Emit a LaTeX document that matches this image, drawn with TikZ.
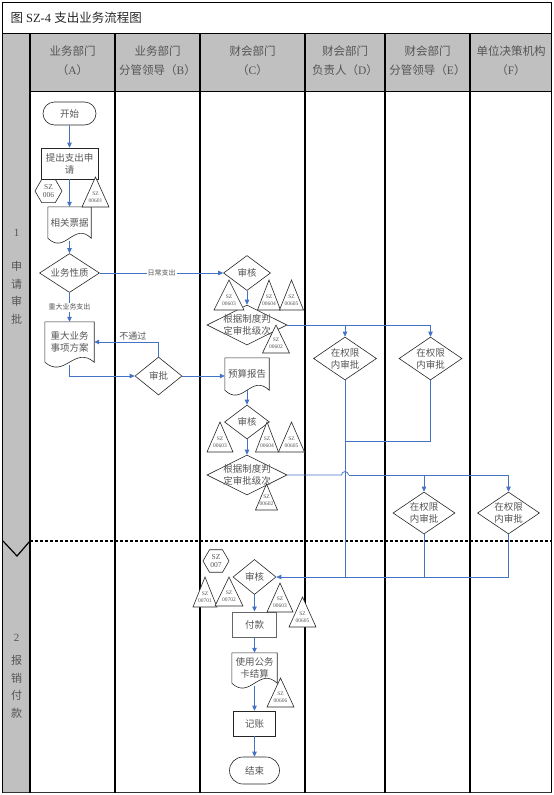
\documentclass[tikz,border=0pt]{standalone}
\usepackage{fontspec}
\setmainfont{Liberation Serif}
\newfontfamily\cjk{Noto Sans CJK SC}
\usetikzlibrary{positioning,arrows.meta,shapes.geometric,shapes.misc,calc}

\definecolor{flowblue}{RGB}{68,114,196}
\definecolor{lanegray}{RGB}{192,192,192}
\definecolor{txtgray}{RGB}{85,85,85}

\tikzset{
  shapeline/.style={draw=black!85, line width=0.6pt},
  procbox/.style={rectangle, shapeline, inner sep=1pt, align=center},
  docbox/.style={rectangle, inner sep=1pt, align=center},
  decision/.style={diamond, shapeline, inner sep=-8pt, align=center},
  terminal/.style={rounded rectangle, shapeline, inner sep=1pt},
  szhex/.style={regular polygon, regular polygon sides=6, shapeline, inner sep=0pt, align=center,
    font=\rmfamily\fontsize{7.5}{8}\selectfont},
  sztri/.style={rectangle, inner sep=0pt, align=center, minimum height=22,
    font=\rmfamily\fontsize{5.5}{6.5}\selectfont},
  flow/.style={draw=flowblue, line width=0.8pt, -{Triangle[length=5pt,width=4.5pt]}},
  flowline/.style={draw=flowblue, line width=0.8pt},
  lanetext/.style={font=\cjk\fontsize{11.5}{19}\selectfont, text=txtgray, align=center},
  phasetext/.style={font=\cjk\fontsize{11}{17.5}\selectfont, text=txtgray, align=center},
  linklabel/.style={font=\cjk\fontsize{7}{8}\selectfont, text=txtgray, fill=white, inner sep=1pt},
}

\begin{document}
\begin{tikzpicture}[x=1pt, y=-1pt, every node/.style={font=\cjk\fontsize{9.5}{12}\selectfont, text=txtgray}]
  \useasboundingbox (0,0) rectangle (554,795);

  % lanes
  \fill[lanegray] (3,33) rectangle (30,793);
  \fill[lanegray] (30,33) rectangle (552,91);
  \draw[line width=1pt] (2.5,2.5) rectangle (551.5,792.5);
  \draw[line width=1.6pt, black!80] (2.5,792.5) -- (551.5,792.5);
  \draw[line width=1pt] (2.5,33) -- (551.5,33);
  \draw[line width=1pt] (30,91) -- (551.5,91);
  \foreach \xx in {30,115,200,305,385,470}
    \draw[line width=1.2pt] (\xx,33) -- (\xx,792.5);
  \draw[line width=1.8pt, dash pattern=on 3pt off 2pt] (30,541) -- (551.5,541);
  \draw[line width=1.2pt] (3,541) -- (17,556) -- (30,541);

  \node[anchor=west, font=\rmfamily\fontsize{12.5}{14}\selectfont, text=black!85] (title) at (7,17.5)
    {{\cjk 图} SZ-4 {\cjk 支出业务流程图}};
  \node[lanetext] (hA) at (72.5,61) {业务部门\\（\textrm{A}）};
  \node[lanetext] (hB) at (157.5,61) {业务部门\\分管领导（\textrm{B}）};
  \node[lanetext] (hC) at (252.5,61) {财会部门\\（\textrm{C}）};
  \node[lanetext] (hD) at (345,61) {财会部门\\负责人（\textrm{D}）};
  \node[lanetext] (hE) at (427.5,61) {财会部门\\分管领导（\textrm{E}）};
  \node[lanetext] (hF) at (511,61) {单位决策机构\\（\textrm{F}）};

  \node[phasetext, font=\rmfamily\fontsize{11}{13}\selectfont] (ph1num) at (16.5,233) {1};
  \node[phasetext] (ph1name) at (16.5,293) {申\\请\\审\\批};
  \node[phasetext, font=\rmfamily\fontsize{11}{13}\selectfont] (ph2num) at (16.5,638) {2};
  \node[phasetext] (ph2name) at (16.5,687) {报\\销\\付\\款};

  % phase 1
  \node[terminal, minimum width=55, minimum height=23] (start) at (69.5,113.5) {开始};
  \node[procbox, minimum width=57, minimum height=31] (req) at (69.5,163.5) {提出支出申\\请};
  \node[szhex, minimum size=27] (hex006) at (48.5,191) {SZ\\006};
  \node[docbox, minimum width=43, minimum height=31] (bills) at (69.5,222.5) {相关票据};
  \node[decision, minimum width=60, minimum height=39] (nature) at (69.5,273) {业务性质};
  \node[docbox, minimum width=49, minimum height=40] (major) at (69.5,342) {重大业务\\事项方案};
  \node[decision, minimum width=47, minimum height=38] (approveB) at (158.5,376) {审批};

  \node[decision, minimum width=47, minimum height=35] (audit1) at (247,273) {审核};
  \node[decision, minimum width=80, minimum height=40] (judge1) at (247,325) {根据制度判\\定审批级次};
  \node[docbox, minimum width=44, minimum height=32] (budget) at (247,374) {预算报告};
  \node[decision, minimum width=45, minimum height=34] (audit2) at (247,422) {审核};
  \node[decision, minimum width=80, minimum height=40] (judge2) at (247,475) {根据制度判\\定审批级次};

  \node[decision, minimum width=63, minimum height=43] (authD1) at (345,358.5) {在权限\\内审批};
  \node[decision, minimum width=63, minimum height=43] (authE1) at (430.5,358.5) {在权限\\内审批};
  \node[decision, minimum width=62, minimum height=42] (authE2) at (424,513) {在权限\\内审批};
  \node[decision, minimum width=62, minimum height=42] (authF) at (508.5,513) {在权限\\内审批};

  % phase 2
  \node[szhex, minimum size=26] (hex007) at (216,561) {SZ\\007};
  \node[decision, minimum width=43, minimum height=35] (audit3) at (254.5,577) {审核};
  \node[procbox, draw=black!60, line width=1pt, minimum width=44, minimum height=25] (pay) at (254.5,624.5) {付款};
  \node[docbox, minimum width=45, minimum height=30] (card) at (254.5,668) {使用公务\\卡结算};
  \node[procbox, minimum width=42, minimum height=25] (book) at (254.5,723.5) {记账};
  \node[terminal, minimum width=52, minimum height=27] (finish) at (254.5,770.5) {结束};

  \foreach \dd in {bills,major,budget,card}
    \draw[shapeline] (\dd.south east) -- (\dd.north east) -- (\dd.north west) -- (\dd.south west)
      .. controls ($(\dd.south west)!0.4!(\dd.south east)+(0,17)$) and ($(\dd.south west)!0.6!(\dd.south east)+(0,-17)$)
      .. (\dd.south east) -- cycle;

  % connectors
  \coordinate (billsfoot) at ($(bills.south)+(0,3)$);
  \coordinate (majorfoot) at ($(major.south)+(0,3)$);
  \coordinate (cardfoot) at ($(card.south)+(0,3)$);
  \draw[flow] (start) -- (req);
  \draw[flow] (req) -- (bills);
  \draw[flow] (billsfoot) -- (nature);
  \draw[flow] (nature) -- node[linklabel] {日常支出} (audit1);
  \draw[flow] (nature) -- node[linklabel] {重大业务支出} (major);
  \draw[flow] (majorfoot) |- (approveB);
  \draw[flow] (approveB) |- node[pos=0.7, above, linklabel, fill=none, font=\cjk\fontsize{9}{10}\selectfont] {不通过} (major);
  \draw[flow] (approveB) -- (budget.west |- approveB);
  \draw[flow] (audit1) -- (judge1);
  \draw[flow] (judge1) -| (authD1);
  \draw[flow] (judge1) -| (authE1);
  \draw[flow] (budget.south) -- (audit2);
  \draw[flow] (audit2) -- (judge2);
  \coordinate (hopL) at (341.5,475);
  \coordinate (hopR) at (348.5,475);
  \draw[flowline] (judge2) -- (hopL) .. controls +(0,-4.5) and +(0,-4.5) .. (hopR);
  \draw[flow] (hopR) -| (authE2);
  \draw[flow] (hopR) -| (authF);
  \coordinate (joinE) at (345,441);
  \draw[flowline] (authE1) |- (joinE);
  \draw[flowline] (authD1) -- (authD1 |- audit3);
  \draw[flowline] (authE2) -- (authE2 |- audit3);
  \draw[flow] (authF) |- (audit3);
  \draw[flow] (audit3) -- (pay);
  \draw[flow] (pay) -- (card);
  \draw[flow] (cardfoot) -- (book);
  \draw[flow] (book) -- (finish);

  % document references
  \foreach \nm/\xx/\ay/\by/\ww/\code in {t601/95.5/177/207/27/00601, t603a/229/280/310/30/00603,
      t604a/269/280/310/23/00604, t605a/291.5/280/310/24/00605, t602a/276/325/353/27/00602,
      t603b/220/422/452/26/00603, t604b/267/422/452/23/00604, t605b/291.5/422/452/26/00605,
      t602b/266.5/484/510/22/00602, t701/205/577/607/24/00701, t702/229/577/606/28/00702,
      t603c/280/583/612/26/00603, t605c/302.5/597/627/27/00605, t606/280.5/678/707/27/00606} {
    \draw[shapeline, fill=white] (\xx,\ay) -- (\xx+\ww/2,\by) -- (\xx-\ww/2,\by) -- cycle;
    \node[sztri, minimum width=\ww] (\nm) at (\xx,\by-10) {SZ\\\code};
  }
\end{tikzpicture}
\end{document}
